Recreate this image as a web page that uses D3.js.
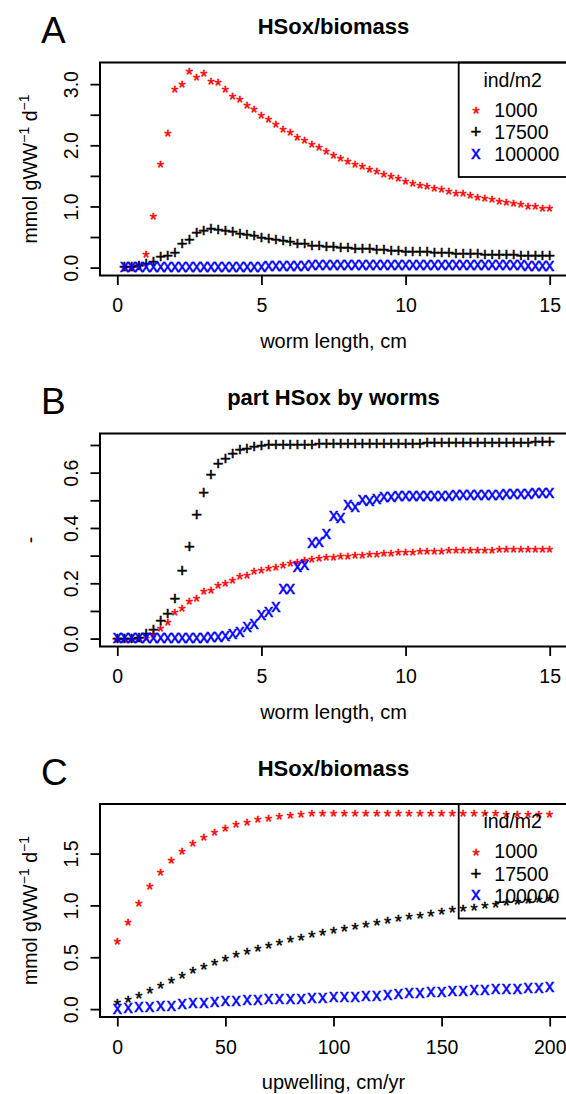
<!DOCTYPE html>
<html>
<head>
<meta charset="utf-8">
<script src="https://cdn.jsdelivr.net/npm/d3@7"></script>
<style>
  body { margin: 0; background: #fff; }
  text { font-family: "Liberation Sans", Arial, Helvetica, sans-serif; }
</style>
</head>
<body>
<svg id="fig" width="566" height="1094"></svg>
<script>
// ---- data ----

// panel A: HSox/biomass vs worm length
var lenA = [0.25,0.5,0.75,1,1.25,1.5,1.75,2,2.25,2.5,2.75,3,3.25,3.5,3.75,4,4.25,4.5,4.75,5,
  5.25,5.5,5.75,6,6.25,6.5,6.75,7,7.25,7.5,7.75,8,8.25,8.5,8.75,9,9.25,9.5,9.75,10,
  10.25,10.5,10.75,11,11.25,11.5,11.75,12,12.25,12.5,12.75,13,13.25,13.5,13.75,14,14.25,14.5,14.75,15];
var hsoxA_1000 = [0.0,0.01,0.05,0.23,0.86,1.70,2.21,2.93,3.01,3.225,3.13,3.19,3.06,3.045,2.93,2.82,2.77,2.67,2.60,2.51,
  2.44,2.36,2.28,2.23,2.15,2.10,2.03,1.98,1.92,1.86,1.81,1.76,1.71,1.68,1.62,1.59,1.55,1.515,1.47,1.43,
  1.40,1.37,1.35,1.32,1.30,1.27,1.24,1.23,1.20,1.17,1.145,1.13,1.10,1.09,1.075,1.05,1.025,1.013,0.99,0.98];
var hsoxA_17500 = [0.01,0.02,0.04,0.07,0.10,0.175,0.20,0.25,0.387,0.46,0.58,0.605,0.643,0.62,0.605,0.588,0.56,0.545,0.518,0.50,
  0.48,0.452,0.436,0.425,0.40,0.387,0.365,0.36,0.35,0.345,0.335,0.325,0.315,0.31,0.305,0.295,0.29,0.285,0.28,0.27,
  0.265,0.26,0.255,0.25,0.245,0.24,0.235,0.23,0.225,0.225,0.22,0.215,0.215,0.21,0.21,0.205,0.205,0.2,0.2,0.195];
var hsoxA_100000 = [0.0,0.0,0.005,0.005,0.005,0.005,0.005,0.005,0.008,0.008,0.008,0.008,0.01,0.01,0.01,0.01,
  0.012,0.012,0.015,0.015,0.018,0.02,0.022,0.025,0.028,0.03,0.035,0.04,0.04,0.042,0.042,0.045,
  0.045,0.045,0.045,0.045,0.045,0.045,0.045,0.045,0.042,0.04,0.04,0.04,0.038,0.038,0.036,0.036,
  0.035,0.035,0.034,0.034,0.033,0.033,0.032,0.032,0.031,0.031,0.03,0.03];

// panel B: part of HSox by worms
var lenB = [0,0.25,0.5,0.75,1,1.25,1.5,1.75,2,2.25,2.5,2.75,3,3.25,3.5,3.75,4,4.25,4.5,4.75,5,
  5.25,5.5,5.75,6,6.25,6.5,6.75,7,7.25,7.5,7.75,8,8.25,8.5,8.75,9,9.25,9.5,9.75,10,
  10.25,10.5,10.75,11,11.25,11.5,11.75,12,12.25,12.5,12.75,13,13.25,13.5,13.75,14,14.25,14.5,14.75,15];
var partB_1000 = [0,0,0,0,0.006,0.02,0.042,0.063,0.10,0.114,0.14,0.151,0.174,0.18,0.198,0.205,0.213,0.229,0.234,0.246,0.249,
  0.258,0.263,0.267,0.275,0.278,0.287,0.29,0.294,0.297,0.299,0.301,0.302,0.304,0.306,0.308,0.31,0.312,0.313,0.314,0.316,
  0.317,0.318,0.319,0.32,0.321,0.322,0.322,0.323,0.323,0.324,0.324,0.324,0.325,0.325,0.325,0.326,0.326,0.326,0.326,0.327];
var partB_17500 = [0,0,0,0.004,0.017,0.032,0.066,0.092,0.144,0.245,0.332,0.45,0.527,0.594,0.634,0.651,0.67,0.683,0.687,0.696,0.699,
  0.70,0.701,0.702,0.702,0.703,0.703,0.703,0.704,0.704,0.704,0.704,0.704,0.705,0.705,0.705,0.705,0.705,0.705,0.705,0.705,
  0.705,0.705,0.709,0.709,0.709,0.709,0.709,0.709,0.709,0.709,0.709,0.709,0.709,0.709,0.709,0.709,0.709,0.713,0.713,0.713];
var partB_100000 = [0,0,0,0,0,0,0,0,0,0.001,0.001,0.002,0.003,0.004,0.006,0.01,0.016,0.023,0.042,0.051,0.084,
  0.096,0.112,0.177,0.18,0.26,0.264,0.345,0.348,0.376,0.444,0.436,0.484,0.474,0.50,0.496,0.503,0.513,0.513,0.514,0.515,
  0.515,0.515,0.516,0.516,0.516,0.516,0.517,0.517,0.518,0.518,0.519,0.52,0.52,0.521,0.522,0.522,0.523,0.524,0.525,0.527];

// panel C: HSox/biomass vs upwelling
var upwC = [0,5,10,15,20,25,30,35,40,45,50,55,60,65,70,75,80,85,90,95,
  100,105,110,115,120,125,130,135,140,145,150,155,160,165,170,175,180,185,190,195,200];
var hsoxC_1000 = [0.665,0.847,1.03,1.193,1.327,1.443,1.533,1.606,1.667,1.715,1.753,1.788,1.811,1.84,1.852,1.868,1.878,1.888,1.897,1.897,
  1.90,1.90,1.90,1.902,1.902,1.902,1.902,1.902,1.902,1.902,1.90,1.90,1.90,1.898,1.897,1.895,1.893,1.891,1.889,1.887,1.885];
var hsoxC_17500 = [0.074,0.102,0.144,0.189,0.24,0.285,0.336,0.384,0.422,0.458,0.496,0.534,0.566,0.592,0.621,0.653,0.681,0.707,0.729,0.755,
  0.774,0.79,0.81,0.829,0.848,0.87,0.886,0.905,0.918,0.934,0.953,0.969,0.982,0.995,1.01,1.024,1.036,1.046,1.056,1.065,1.075];
var hsoxC_100000 = [0.0,0.01,0.016,0.022,0.032,0.032,0.045,0.055,0.055,0.064,0.074,0.074,0.083,0.083,0.093,0.093,0.1,0.1,0.106,0.106,
  0.118,0.118,0.118,0.128,0.128,0.138,0.144,0.15,0.157,0.163,0.163,0.17,0.176,0.182,0.182,0.189,0.189,0.195,0.2,0.2,0.208];

// ticks and labels
var xTicksLen = [0, 5, 10, 15];
var xTicksUpw = [0, 50, 100, 150, 200];
var yTicksA = [0, 0.5, 1, 1.5, 2, 2.5, 3];
var yLabelsA = [0, 1, 2, 3];
var yTicksB = [0, 0.1, 0.2, 0.3, 0.4, 0.5, 0.6, 0.7];
var yLabelsB = [0, 0.2, 0.4, 0.6];
var yTicksC = [0, 0.5, 1, 1.5];
var yLabelsC = [0, 0.5, 1, 1.5];
var legendTitle = "ind/m2";
var densities = ["1000", "17500", "100000"];

// ---- layout ----
var plotLeft = 100, plotRight = 567, plotHeight = 213;
var fontSize = 19.5, markSize = 18.5;
// glyph centre above baseline (em), so R-like pch characters sit centred on the point
var glyphMid = { "*": 0.58, "+": 0.35, "x": 0.26 };

var svg = d3.select("#fig");
svg.append("rect").attr("width", 566).attr("height", 1094).attr("fill", "#fff");

// R style axis range: data range padded by 4% each side
function padded(lo, hi) {
  var r = hi - lo;
  return [lo - 0.04 * r, hi + 0.04 * r];
}

function drawPanel(p) {
  var top = p.top, bottom = top + plotHeight;
  var g = svg.append("g");

  var allY = [].concat.apply([], p.series.map(s => s.y));
  var x = d3.scaleLinear().domain(padded(p.xlim[0], p.xlim[1])).range([plotLeft, plotRight]);
  var y = d3.scaleLinear().domain(padded(d3.min(allY), d3.max(allY))).range([bottom, top]);

  // points (character symbols, slightly stroked to look like the R device output)
  p.series.forEach(function(s) {
    g.append("g").selectAll("text")
      .data(s.y)
      .enter()
      .append("text")
      .attr("x", (d, i) => x(s.x[i]))
      .attr("y", d => y(d) + glyphMid[s.ch] * markSize)
      .attr("text-anchor", "middle")
      .attr("font-size", markSize)
      .attr("fill", s.color)
      .attr("stroke", s.color)
      .attr("stroke-width", 0.5)
      .text(s.ch);
  });

  // x axis
  var xAxis = g.append("g")
    .attr("transform", `translate(0, ${bottom})`)
    .call(d3.axisBottom(x).tickValues(p.xticks).tickSize(9.5).tickFormat(d3.format("d")));
  xAxis.select(".domain").remove();
  xAxis.selectAll("line").attr("stroke", "#000").attr("stroke-width", 1.8);
  xAxis.selectAll("text")
    .attr("y", 36.5).attr("dy", 0)
    .attr("font-size", fontSize).attr("font-family", null).attr("fill", "#000");

  // y axis, labels turned like R's las=0
  var yAxis = g.append("g")
    .attr("transform", `translate(${plotLeft}, 0)`)
    .call(d3.axisLeft(y).tickValues(p.yticks).tickSize(9.5)
      .tickFormat(d => p.ylabels.indexOf(d) >= 0 ? d.toFixed(1) : ""));
  yAxis.select(".domain").remove();
  yAxis.selectAll("line").attr("stroke", "#000").attr("stroke-width", 1.8);
  yAxis.selectAll("text")
    .attr("transform", "rotate(-90)")
    .attr("x", 0).attr("y", -22).attr("dy", 0)
    .attr("text-anchor", "middle")
    .attr("font-size", fontSize).attr("font-family", null).attr("fill", "#000");

  // box
  g.append("rect")
    .attr("x", plotLeft).attr("y", top)
    .attr("width", plotRight - plotLeft).attr("height", plotHeight)
    .attr("fill", "none").attr("stroke", "#000").attr("stroke-width", 2);

  // titles
  g.append("text")
    .attr("x", (plotLeft + plotRight) / 2).attr("y", top - 28.5)
    .attr("text-anchor", "middle").attr("font-weight", "bold").attr("font-size", 22)
    .text(p.title);
  g.append("text")
    .attr("x", 41).attr("y", top - 19.5)
    .attr("font-size", 37)
    .text(p.letter);
  g.append("text")
    .attr("x", (plotLeft + plotRight) / 2).attr("y", bottom + 72)
    .attr("text-anchor", "middle").attr("font-size", 20)
    .text(p.xlab);

  var ylab = g.append("text")
    .attr("transform", `translate(37, ${top + plotHeight / 2}) rotate(-90)`)
    .attr("text-anchor", "middle").attr("font-size", fontSize);
  if (p.unit) {
    ylab.append("tspan").text("mmol gWW");
    ylab.append("tspan").attr("font-size", 14).attr("dy", -8).text("\u22121");
    ylab.append("tspan").attr("dy", 8).text(" d");
    ylab.append("tspan").attr("font-size", 14).attr("dy", -8).text("\u22121");
  } else {
    ylab.text("-");
  }

  // legend
  if (p.legend) {
    var lg = g.append("g").attr("transform", `translate(458.7, ${top})`);
    lg.append("rect")
      .attr("width", plotRight - 458.7).attr("height", 114.5)
      .attr("fill", "none").attr("stroke", "#000").attr("stroke-width", 1.8);
    lg.append("text").attr("x", 54).attr("y", 24)
      .attr("text-anchor", "middle").attr("font-size", fontSize).text(legendTitle);
    var rows = lg.selectAll(".row").data(densities).enter().append("g")
      .attr("transform", (d, i) => `translate(0, ${54.4 + i * 22.2})`);
    rows.append("text")
      .attr("x", 17.3)
      .attr("y", (d, i) => -7.2 + glyphMid[p.legendCh[i]] * markSize)
      .attr("text-anchor", "middle").attr("font-size", markSize)
      .attr("fill", (d, i) => p.legendCol[i])
      .attr("stroke", (d, i) => p.legendCol[i])
      .attr("stroke-width", 0.5)
      .text((d, i) => p.legendCh[i]);
    rows.append("text")
      .attr("x", 35.6).attr("y", 0)
      .attr("font-size", fontSize).text(d => d);
  }
}

var cols = ["#ff0000", "#000000", "#0000ff"];

drawPanel({
  top: 62.5, letter: "A", title: "HSox/biomass", xlab: "worm length, cm", unit: true,
  xlim: [0, 15], xticks: xTicksLen, yticks: yTicksA, ylabels: yLabelsA,
  series: [
    { x: lenA, y: hsoxA_1000, ch: "*", color: cols[0] },
    { x: lenA, y: hsoxA_17500, ch: "+", color: cols[1] },
    { x: lenA, y: hsoxA_100000, ch: "x", color: cols[2] }
  ],
  legend: true, legendCh: ["*", "+", "x"], legendCol: cols
});

drawPanel({
  top: 433.5, letter: "B", title: "part HSox by worms", xlab: "worm length, cm", unit: false,
  xlim: [0, 15], xticks: xTicksLen, yticks: yTicksB, ylabels: yLabelsB,
  series: [
    { x: lenB, y: partB_1000, ch: "*", color: cols[0] },
    { x: lenB, y: partB_17500, ch: "+", color: cols[1] },
    { x: lenB, y: partB_100000, ch: "x", color: cols[2] }
  ],
  legend: false
});

drawPanel({
  top: 804, letter: "C", title: "HSox/biomass", xlab: "upwelling, cm/yr", unit: true,
  xlim: [0, 200], xticks: xTicksUpw, yticks: yTicksC, ylabels: yLabelsC,
  series: [
    { x: upwC, y: hsoxC_1000, ch: "*", color: cols[0] },
    { x: upwC, y: hsoxC_17500, ch: "*", color: cols[1] },
    { x: upwC, y: hsoxC_100000, ch: "x", color: cols[2] }
  ],
  legend: true, legendCh: ["*", "+", "x"], legendCol: cols
});
</script>
</body>
</html>
